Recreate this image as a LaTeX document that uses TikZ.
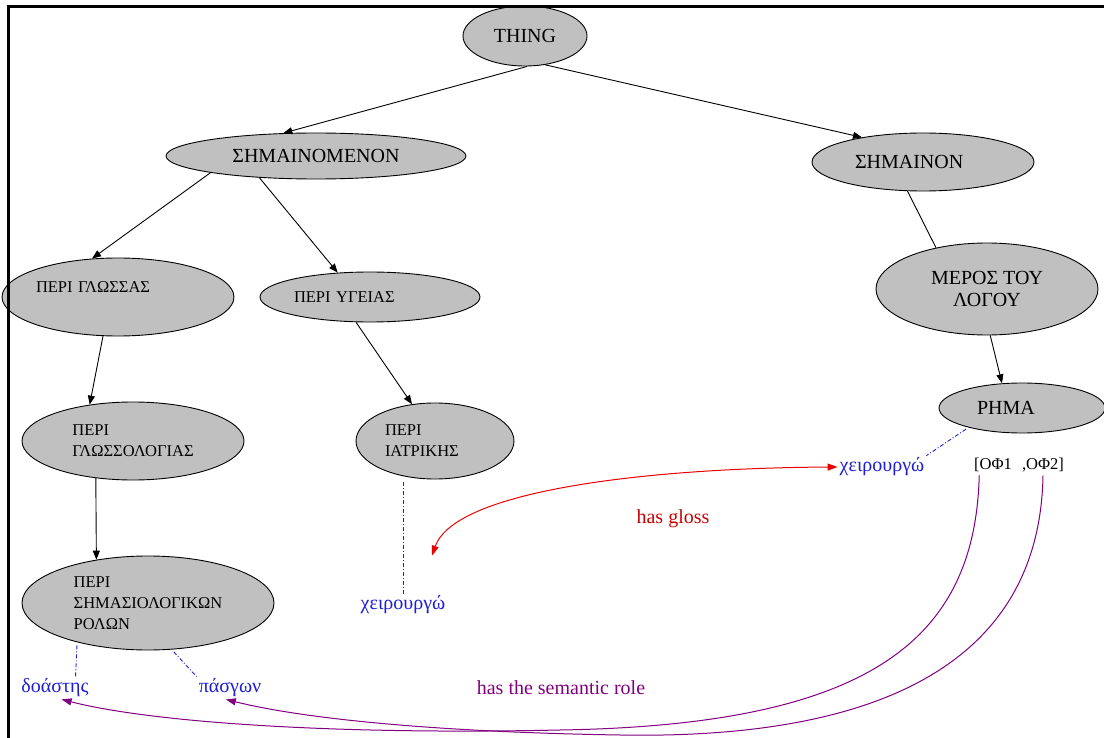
\documentclass[tikz,border=0pt]{standalone}
\usepackage{fontspec}
\setmainfont{Liberation Serif}
\usetikzlibrary{shapes.geometric, arrows.meta, calc}

\definecolor{nodegray}{RGB}{192,192,192}
\definecolor{wordblue}{RGB}{30,30,215}
\definecolor{glossred}{RGB}{235,0,0}
\definecolor{rolepurple}{RGB}{128,0,128}

\begin{document}
\begin{tikzpicture}[
    x=1pt, y=-1pt,
    every node/.style={font=\rmfamily\fontsize{20}{22}\selectfont},
    smalltext/.style={font=\rmfamily\fontsize{16.5}{21}\selectfont},
    concept/.style={ellipse, draw, fill=nodegray, inner sep=0pt, line width=0.9pt},
    wordlabel/.style={text=wordblue, inner sep=2pt},
    isa/.style={-{Triangle[length=9pt, width=7pt]}, line width=0.9pt},
    link/.style={draw=wordblue, line width=0.9pt, shorten <=3pt, dash pattern=on 4pt off 2pt on 1pt off 2pt},
    glossarc/.style={{Triangle[length=10pt, width=7pt]}-{Triangle[length=10pt, width=7pt]}, glossred, line width=1pt},
    rolearc/.style={-{Triangle[length=10pt, width=7pt]}, rolepurple, line width=1pt}
]
    \useasboundingbox (0,0) rectangle (1104,738);

    % ontology tree
    \node[concept, minimum width=124, minimum height=60] (thing) at (525,36) {THING};
    \node[concept, minimum width=300, minimum height=46] (semen) at (316,156) {ΣΗΜΑΙΝΟΜΕΝΟΝ};
    \node[concept, minimum width=222, minimum height=58, text width=136, align=left] (semn) at (923,162) {ΣΗΜΑΙΝΟΝ};
    \node[concept, smalltext, minimum width=226, minimum height=78, text width=164, align=left, text height=12pt, text depth=21pt] (glossa) at (118,297) {ΠΕΡΙ ΓΛΩΣΣΑΣ};
    \node[concept, smalltext, minimum width=220, minimum height=50, text width=152, align=left] (ygeia) at (370,297) {ΠΕΡΙ ΥΓΕΙΑΣ};
    \node[concept, align=center, minimum width=222, minimum height=92] (meros) at (987,289) {ΜΕΡΟΣ ΤΟΥ\\ΛΟΓΟΥ};
    \node[concept, smalltext, align=left, minimum width=222, minimum height=78] (glossol) at (133,441) {ΠΕΡΙ\\ΓΛΩΣΣΟΛΟΓΙΑΣ};
    \node[concept, smalltext, align=left, text width=100, minimum width=158, minimum height=76] (iatr) at (435,441) {ΠΕΡΙ\\ΙΑΤΡΙΚΗΣ};
    \node[concept, minimum width=166, minimum height=50, text width=90, align=left] (rima) at (1022,408) {ΡΗΜΑ};
    \node[concept, smalltext, align=left, minimum width=252, minimum height=94] (simas) at (148,603) {ΠΕΡΙ\\ΣΗΜΑΣΙΟΛΟΓΙΚΩΝ\\ΡΟΛΩΝ};

    \draw[isa] (thing.274) -- (semen.145);
    \draw[isa] (thing.305) -- (semn.158);
    \draw[isa] (semen.189) -- (glossa.124);
    \draw[isa] (semen.201) -- (ygeia.143);
    \draw[isa] (ygeia.241) -- (iatr.122);
    \draw[isa] (glossa.249) -- (glossol.140);
    \draw[isa] (glossol.225) -- (simas.140);
    \draw[line width=0.9pt] (semn.242) -- (meros.141);
    \draw[isa] (meros.274) -- (rima.129);

    % words and frames
    \node[wordlabel] (chirL) at (403,605) {χειρουργώ};
    \node[wordlabel] (chirR) at (882,467) {χειρουργώ};
    \node[smalltext] (ofA) at (993,465) {[ΟΦ1};
    \node[smalltext] (ofB) at (1043,465) {,ΟΦ2]};
    \node[wordlabel] (doastis) at (55,688) {δοάστης};
    \node[wordlabel] (pasgon) at (230,688) {πάσγων};
    \node[text=glossred!85!black] (glosslabel) at (673,519) {has gloss};
    \node[text=rolepurple] (rolelabel) at (561,688) {has the semantic role};

    \draw[link] (chirL |- iatr.south) -- (chirL.north);
    \draw[link] (simas.209) -- (doastis.29);
    \draw[link] (simas.297) -- (pasgon.north west);
    \draw[link] (rima.200) -- (chirR.north east);

    % relations
    \coordinate (glossend) at ($(chirL.north)+(29,-38)$);
    \draw[glossarc] (glossend) .. controls (455,490) and (650,468) .. (chirR.west);
    \draw[rolearc] (ofA.217) .. controls (975,640) and (870,725) .. (560,730) .. controls (330,735) and (150,722) .. (doastis.300);
    \draw[rolearc] (ofB.south) .. controls (1040,650) and (900,740) .. (620,735) .. controls (430,732) and (300,718) .. (pasgon.250);

    \draw[line width=3pt] (8,738) -- (8,7) -- (1104,7);
\end{tikzpicture}
\end{document}
